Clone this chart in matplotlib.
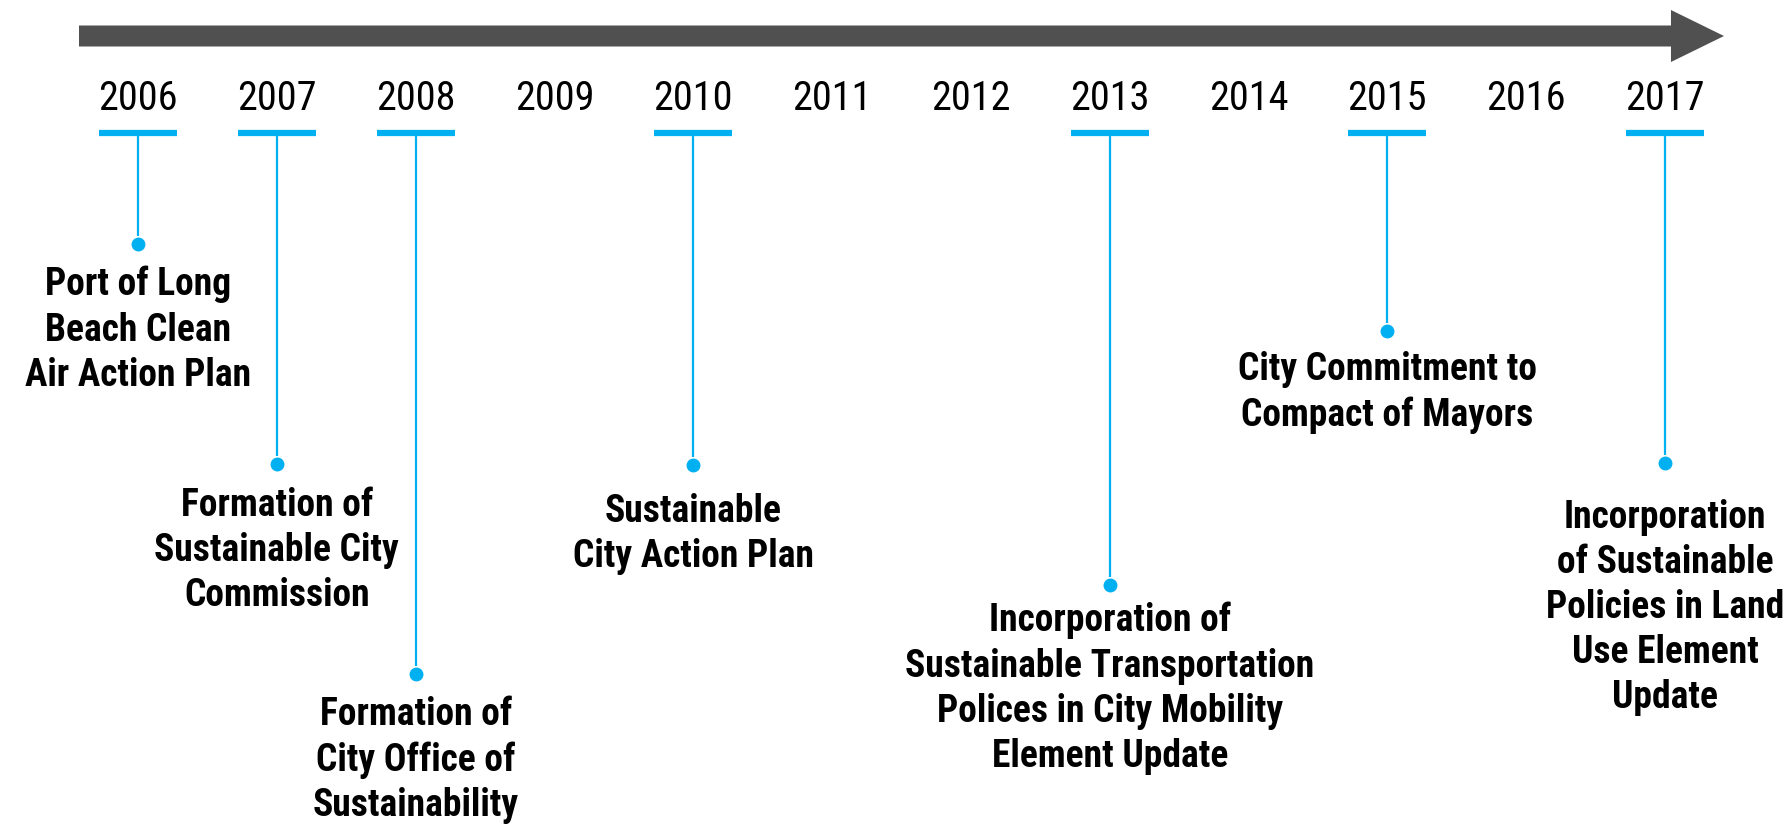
import matplotlib.pyplot as plt
from matplotlib.patches import FancyArrow

plt.rcParams['font.family'] = ['Roboto Condensed', 'Lato', 'DejaVu Sans']

years = list(range(2006, 2018))

event_years = [2006, 2007, 2008, 2010, 2013, 2015, 2017]
event_labels = [
    "Port of Long\nBeach Clean\nAir Action Plan",
    "Formation of\nSustainable City\nCommission",
    "Formation of\nCity Office of\nSustainability",
    "Sustainable\nCity Action Plan",
    "Incorporation of\nSustainable Transportation\nPolices in City Mobility\nElement Update",
    "City Commitment to\nCompact of Mayors",
    "Incorporation\nof Sustainable\nPolicies in Land\nUse Element\nUpdate",
]
# depth of each dot below the top (px), and gap from dot to its text
dot_depth = [244, 464, 674, 465, 585, 331, 463]
label_gap = [22, 23, 22, 28, 17, 20, 36]

blue = "#00B0F0"
grey = "#505050"

fig = plt.figure(figsize=(17.88, 8.24), dpi=100)
ax = fig.add_axes([0, 0, 1, 1])
ax.set_xlim(2005.0059, 2017.886)
ax.set_ylim(824, 0)
ax.axis("off")

# timeline arrow
ax.add_patch(FancyArrow(2005.575, 36, 2017.425 - 2005.575, 0, width=21,
                        head_width=52, head_length=0.382,
                        length_includes_head=True, color=grey, lw=0))

for yr in years:
    ax.text(yr, 110, str(yr), ha="center", va="baseline", fontsize=29, color="black")

bar_y = 133
for yr, d, lab, g in zip(event_years, dot_depth, event_labels, label_gap):
    ax.hlines(bar_y, yr - 0.281, yr + 0.281, color=blue, lw=4.5)
    ax.vlines(yr, bar_y, d - 8, color=blue, lw=1.6)
    ax.plot(yr, d, "o", color=blue, ms=10, mec="none")
    ax.text(yr, d + g, lab, ha="center", va="top", fontsize=27,
            fontweight="bold", linespacing=1.28, color="black")

fig.savefig("out.png", dpi=100)
